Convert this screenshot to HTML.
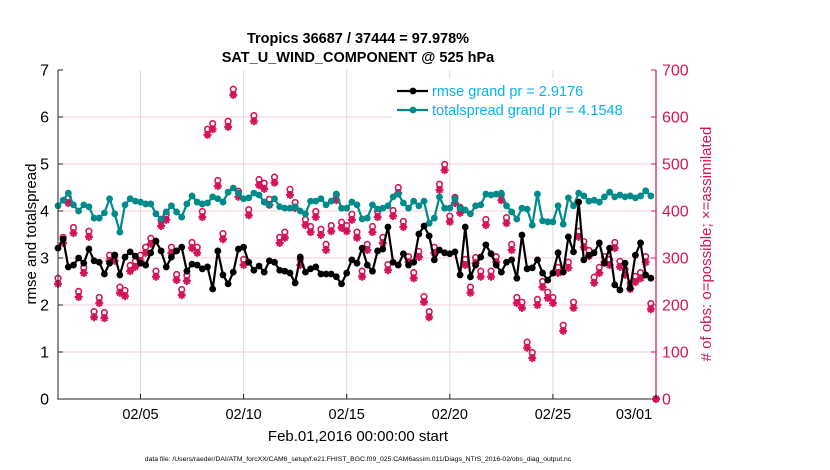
<!DOCTYPE html>
<html><head><meta charset="utf-8">
<style>
body{margin:0;background:#fff;}
svg{display:block;font-family:"Liberation Sans",sans-serif;}
</style></head>
<body>
<svg id="chart" width="830" height="470" viewBox="0 0 830 470" xmlns="http://www.w3.org/2000/svg">
<rect x="0" y="0" width="830" height="470" fill="#fff"/>
<text x="358" y="43" text-anchor="middle" font-size="14.5" font-weight="bold">Tropics 36687 / 37444 = 97.978%</text>
<text x="358" y="62" text-anchor="middle" font-size="14.5" font-weight="bold">SAT_U_WIND_COMPONENT @ 525 hPa</text>
<g id="grid"></g>
<g id="series"></g>
<g id="axes"></g>
<text transform="translate(36,234) rotate(-90)" text-anchor="middle" font-size="15">rmse and totalspread</text>
<text transform="translate(711,244) rotate(-90)" text-anchor="middle" font-size="15" fill="#d4145a"># of obs: o=possible; ×=assimilated</text>
<text x="358" y="441" text-anchor="middle" font-size="15">Feb.01,2016 00:00:00 start</text>
<text x="358" y="461" text-anchor="middle" font-size="6.8">data file: /Users/raeder/DAI/ATM_forcXX/CAM6_setup/f.e21.FHIST_BGC.f09_025.CAM6assim.011/Diags_NTrS_2016-02/obs_diag_output.nc</text>
</svg>
<script>
const rmse = [3.21,3.40,2.81,2.85,3.00,2.89,3.19,2.94,2.91,2.66,2.89,3.06,2.64,3.02,3.13,3.04,2.89,2.85,3.11,3.36,3.15,2.81,3.02,3.15,3.23,2.72,2.87,2.85,2.77,2.81,
2.34,3.15,2.64,2.45,2.70,3.19,3.23,2.91,2.74,2.83,2.70,2.94,2.91,2.74,2.72,2.68,2.47,3.02,2.70,2.77,2.81,2.66,2.66,2.66,2.60,2.45,2.68,2.96,2.89,
3.21,2.85,2.72,3.15,3.19,3.66,2.91,2.85,3.09,2.85,2.91,3.51,3.68,3.47,2.96,3.17,3.11,3.09,3.13,
2.64,3.66,2.60,2.85,3.02,3.28,3.09,2.85,2.70,2.91,2.96,2.57,3.49,2.77,2.79,2.96,2.68,2.53,2.68,3.11,2.70,3.45,3.13,4.19,2.96,3.06,3.11,3.32,2.89,3.21,2.43,2.32,2.89,2.36,3.06,3.32,2.64,2.57];
const spread = [4.11,4.23,4.38,4.13,4.00,4.13,4.09,3.85,3.85,3.96,4.26,3.94,3.55,4.13,4.26,4.21,4.19,4.15,4.15,3.94,3.83,3.98,4.11,3.98,3.87,4.15,4.32,4.19,4.15,4.17,
4.30,4.26,4.19,4.40,4.49,4.38,4.26,4.28,4.38,4.34,4.19,4.13,4.26,4.09,4.06,4.06,4.09,4.00,3.94,4.21,4.21,4.26,4.13,4.21,4.36,4.06,4.06,4.19,4.13,
3.83,3.85,4.13,4.04,4.06,4.11,4.30,4.36,4.17,4.06,4.21,4.11,4.21,3.74,3.85,4.30,4.06,4.06,4.26,
4.06,4.02,3.94,4.11,4.13,4.36,4.34,4.36,4.38,4.11,3.98,3.83,4.06,4.04,3.70,4.36,3.79,3.77,3.77,4.11,3.72,4.28,4.11,4.38,4.32,4.21,4.23,4.19,4.30,4.40,4.30,4.34,4.30,4.32,4.28,4.32,4.43,4.32];
const obsAssim = [245,332,417,353,217,268,345,174,204,172,294,294,226,219,272,281,294,311,330,260,368,381,311,253,221,251,321,311,387,
562,574,453,340,579,647,430,285,391,591,455,447,413,460,332,343,434,406,285,370,355,387,349,317,357,423,364,357,381,343,
260,317,355,387,332,274,389,438,366,291,257,302,206,174,311,445,487,377,417,396,285,226,289,260,370,260,291,
423,374,317,204,194,109,87,200,238,215,204,268,145,279,194,345,323,304,247,268,291,285,321,281,264,234,249,257,291,191,0];
const obsPossible = [257,344,429,365,229,280,357,186,216,184,306,306,238,231,284,293,306,323,342,272,380,393,323,265,233,263,333,323,399,
574,586,465,352,591,659,442,297,403,603,467,459,425,472,344,355,446,418,297,382,367,399,361,329,369,435,376,369,393,355,
272,329,367,399,344,286,401,450,378,303,269,314,218,186,323,457,499,389,429,408,297,238,301,272,382,272,303,
435,386,329,216,206,121,99,212,250,227,216,280,157,291,206,357,335,316,259,280,303,297,333,293,276,246,261,269,303,203,0];
const xTickDays = [5,10,15,20,25,30];
const xTickLabels = ["02/05","02/10","02/15","02/20","02/25","03/01"];
const yTicksLeft = [0,1,2,3,4,5,6,7];
const yTicksRight = [0,100,200,300,400,500,600,700];
const startDay = 1, stepDay = 0.25;

const L=58,R=656,T=70,B=399;
const xS = d => L + (d-1)/(30-1)*(R-L);
const yL = v => B - v/7*(B-T);
const yR = v => B - v/700*(B-T);
const NS="http://www.w3.org/2000/svg";
const MAG="#d4145a", TEAL="#008b8b";
function mk(tag,attrs,parent){const e=document.createElementNS(NS,tag);for(const k in attrs)e.setAttribute(k,attrs[k]);parent.appendChild(e);return e;}
const grid=document.getElementById('grid'), series=document.getElementById('series'), axes=document.getElementById('axes');

yTicksRight.forEach(v=>{ if(v>0&&v<700){const l=mk('line',{x1:L,x2:R,y1:yR(v),y2:yR(v),stroke:'#f2d0dc','stroke-width':1},grid);

}});
xTickDays.forEach(d=>{ if(d<30){const l=mk('line',{x1:xS(d),x2:xS(d),y1:T,y2:B,stroke:'#dcdcdc','stroke-width':1},grid);

}});

const lb=mk('rect',{x:392,y:78,width:258,height:42,fill:'#fff'},grid);



function star(x,y,g){const r=4;const p=`M${x-r},${y}H${x+r}M${x},${y-r}V${y+r}M${x-r*0.7},${y-r*0.7}L${x+r*0.7},${y+r*0.7}M${x-r*0.7},${y+r*0.7}L${x+r*0.7},${y-r*0.7}`;
const e=mk('path',{d:p,stroke:MAG,'stroke-width':2,fill:'none'},g);

}
const og=mk('g',{},series);


obsAssim.forEach((v,i)=>{const d=startDay+i*stepDay;star(xS(d),yR(v),og);
const c=mk('circle',{cx:xS(d),cy:yR(obsPossible[i]),r:2.8,fill:'none',stroke:MAG,'stroke-width':1.6},og);

});

function line(vals,color,name){const g=mk('g',{},series);


const pts=vals.map((v,i)=>xS(startDay+i*stepDay).toFixed(1)+','+yL(v).toFixed(1)).join(' ');
const pl=mk('polyline',{points:pts,fill:'none',stroke:color,'stroke-width':2.2},g);


vals.forEach((v,i)=>{const c=mk('circle',{cx:xS(startDay+i*stepDay),cy:yL(v),r:3.4,fill:color},g);

});}
line(spread,TEAL,'totalspread-series');
line(rmse,'#000','rmse-series');

const ax=mk('path',{d:`M${L},${T}V${B}H${R}`,stroke:'#222','stroke-width':1,fill:'none'},axes);


const ra=mk('line',{x1:R,x2:R,y1:T,y2:B,stroke:MAG,'stroke-width':1.2},axes);


yTicksLeft.forEach(v=>{mk('line',{x1:L,x2:L+5,y1:yL(v),y2:yL(v),stroke:'#222'},axes);
const t=mk('text',{x:L-9,y:yL(v)+5.5,'text-anchor':'end','font-size':16},axes);t.textContent=v;

});
yTicksRight.forEach(v=>{mk('line',{x1:R-5,x2:R,y1:yR(v),y2:yR(v),stroke:MAG},axes);
const t=mk('text',{x:R+6,y:yR(v)+5.5,'font-size':16,fill:MAG},axes);t.textContent=v;

});
xTickDays.forEach((d,i)=>{mk('line',{x1:xS(d),x2:xS(d),y1:B,y2:B-5,stroke:'#222'},axes);
const t=mk('text',{x:xS(d)-(d===30?22:0),y:B+20,'text-anchor':'middle','font-size':14.5},axes);t.textContent=xTickLabels[i];

});

const leg=[['rmse grand pr = 2.9176','#000',91],['totalspread grand pr = 4.1548',TEAL,110]];
leg.forEach(([txt,col,y])=>{const g=mk('g',{},axes);


mk('line',{x1:397,x2:428,y1:y,y2:y,stroke:col,'stroke-width':2.2},g);
mk('circle',{cx:413,cy:y,r:3.4,fill:col},g);
const t=mk('text',{x:432,y:y+5,'font-size':14.5,fill:'#00b4f0'},g);t.textContent=txt;});
</script>
</body></html>
